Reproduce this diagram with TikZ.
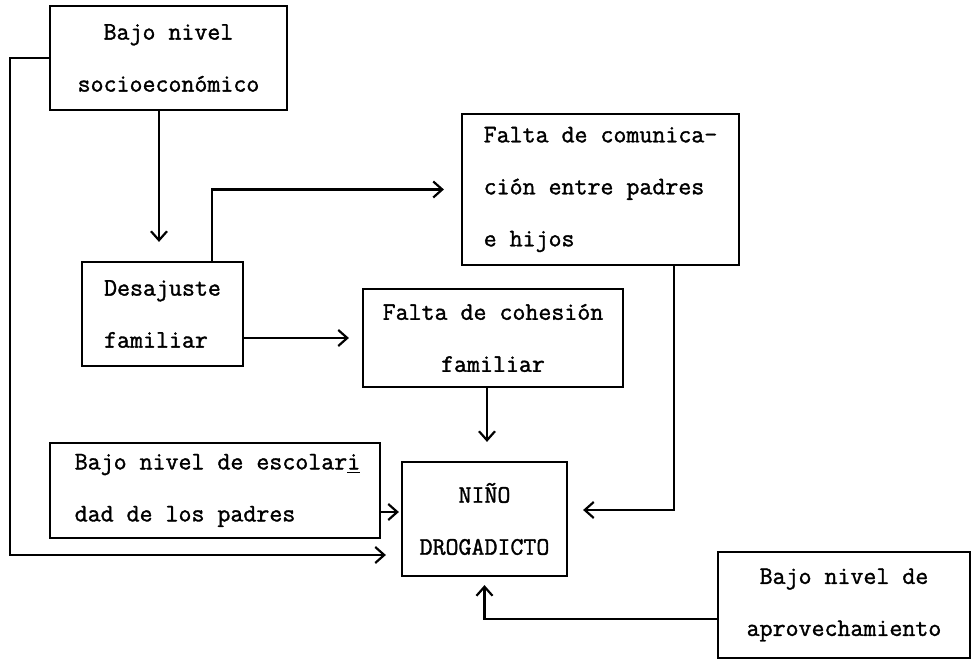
\documentclass[tikz,border=0pt]{standalone}
\usepackage{fontspec}
\newfontfamily\maquina{lmmono12-regular.otf}[FakeBold=1.4]
\usetikzlibrary{arrows.meta}

\begin{document}
\begin{tikzpicture} [x = 0.5pt, y = -0.5pt, -> , >= {Straight Barb[length=4.5pt, width=8pt]}, line width = 1.1pt,
  caja/.style = {draw, rectangle, inner sep = 0pt, font = \maquina\fontsize{12.6}{26}\selectfont}]

\useasboundingbox (0,0) rectangle (975,662);

\node [caja, minimum width = 118.5pt, minimum height = 52pt, align = center] (socio) at (168.5,58) {Bajo nivel\\socioeconómico};
\node [caja, minimum width = 80.5pt, minimum height = 52pt, align = left] (desaj) at (162.5,314) {Desajuste\\familiar};
\node [caja, minimum width = 138.5pt, minimum height = 75.5pt, align = left] (comun) at (600.5,189.5) {Falta de comunica-\\ción entre padres\\e hijos};
\node [caja, minimum width = 130pt, minimum height = 49pt, align = center] (cohes) at (493,338) {Falta de cohesión\\familiar};
\node [caja, minimum width = 165pt, minimum height = 47.5pt, align = left] (escol) at (215,490.5) {\hspace*{2.5pt}Bajo nivel de escolar\underline{i}\\\hspace*{2.5pt}dad de los padres};
\node [caja, minimum width = 82.5pt, minimum height = 57pt, align = center] (nino) at (484.5,519) {NIÑO\\DROGADICTO};
\node [caja, minimum width = 126pt, minimum height = 53pt, align = center] (aprov) at (844,605) {Bajo nivel de\\aprovechamiento};

\coordinate (c1) at (159,0);
\coordinate (c2) at (212,193);
\coordinate (c3) at (674,510);
\coordinate (c4) at (0,512);
\coordinate (c5) at (10,555);
\coordinate (c6) at (0,619);
\coordinate (c7) at (487,0);

\draw [shorten >= 9.5pt] (socio.south -| c1) -- (desaj.north -| c1);
\draw [shorten >= 8.5pt] (desaj.north -| c2) |- (comun.west);
\draw [shorten >= 6.5pt] (desaj.east |- cohes.west) -- (cohes.west);
\draw [shorten >= 9.5pt] (cohes.south -| c7) -- (nino.north -| c7);
\draw [shorten >= 7.5pt] (comun.south -| c3) |- (nino.east |- c3);
\draw [shorten >= 1pt] (escol.east |- c4) -- (nino.west |- c4);
\draw [shorten >= 7.5pt] (socio.west) -| (c5) -- (nino.west |- c5);
\draw [shorten >= 4pt] (aprov.west |- c6) -| (nino.south);

\end{tikzpicture}
\end{document}
